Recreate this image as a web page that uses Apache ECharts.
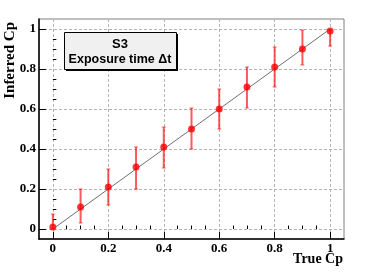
<!DOCTYPE html>
<html><head><meta charset="utf-8">
<script src="https://cdn.jsdelivr.net/npm/echarts@6/dist/echarts.min.js"></script>
<style>html,body{margin:0;padding:0;background:#fff}#c{width:382px;height:274px}</style>
</head><body><div id="c"></div>
<script>
var trueCp   = [0, 0.1, 0.2, 0.3, 0.4, 0.5, 0.6, 0.7, 0.8, 0.9, 1.0];
var inferred = [0.01, 0.11, 0.21, 0.31, 0.41, 0.50, 0.60, 0.71, 0.81, 0.90, 0.99];
var errLow   = [0.00, 0.03, 0.12, 0.20, 0.305, 0.40, 0.50, 0.605, 0.71, 0.82, 0.915];
var errHigh  = [0.075, 0.20, 0.30, 0.41, 0.51, 0.605, 0.70, 0.81, 0.91, 0.995, 0.995];
var refLine  = [[0, 0], [1, 1]];
var majorTicks = [0, 0.2, 0.4, 0.6, 0.8, 1.0];
var minorTicks = [0.05, 0.1, 0.15, 0.25, 0.3, 0.35, 0.45, 0.5, 0.55, 0.65, 0.7, 0.75, 0.85, 0.9, 0.95];
var boxTitle = 'S3';
var boxSubtitle = 'Exposure time \u0394t';
var xTitle = 'True Cp';
var yTitle = 'Inferred Cp';

var points = trueCp.map(function (x, i) { return [x, inferred[i]]; });
var bars = trueCp.map(function (x, i) { return [x, errLow[i], errHigh[i]]; });

var labelFont = { fontFamily: 'Liberation Serif', fontWeight: 'bold', fontSize: 13, color: '#000' };
var gridLine = { show: true, lineStyle: { color: '#b4b4b4', type: [3, 2], width: 1 } };

function mainAxis(isX) {
  return {
    type: 'value', min: -0.05, max: 1.05, gridIndex: 0,
    position: isX ? 'bottom' : 'left',
    axisLine: { show: true, onZero: false, lineStyle: { color: '#000', width: 1.5 } },
    axisTick: { show: true, inside: true, length: 7, customValues: majorTicks, lineStyle: { color: '#000', width: 1 } },
    axisLabel: Object.assign({ show: true, margin: isX ? 3 : 3, customValues: majorTicks,
      formatter: function (v) { return String(Math.round(v * 10) / 10); } }, labelFont),
    splitLine: gridLine
  };
}
function minorAxis(isX) {
  return {
    type: 'value', min: -0.05, max: 1.05, gridIndex: 0,
    position: isX ? 'bottom' : 'left',
    axisLine: { show: false },
    axisTick: { show: true, inside: true, length: 3.5, customValues: minorTicks, lineStyle: { color: '#000', width: 1 } },
    axisLabel: { show: false },
    splitLine: { show: false }
  };
}

var option = {
  animation: false,
  backgroundColor: '#fff',
  grid: { left: 39, right: 38, top: 19, bottom: 35, show: true, borderColor: '#808080', borderWidth: 1, backgroundColor: 'transparent' },
  xAxis: [mainAxis(true), minorAxis(true)],
  yAxis: [mainAxis(false), minorAxis(false)],
  series: [
    { type: 'line', data: refLine, showSymbol: false, symbol: 'none', lineStyle: { color: '#707070', width: 1 }, z: 2 },
    { type: 'custom', data: bars, z: 3,
      renderItem: function (params, api) {
        var x = api.value(0);
        var lo = api.coord([x, api.value(1)]);
        var hi = api.coord([x, api.value(2)]);
        var st = { stroke: 'rgba(255,0,0,0.65)', lineWidth: 2 };
        return { type: 'group', children: [
          { type: 'line', shape: { x1: lo[0], y1: lo[1], x2: hi[0], y2: hi[1] }, style: st },
          { type: 'line', shape: { x1: lo[0] - 2, y1: lo[1], x2: lo[0] + 2, y2: lo[1] }, style: { stroke: 'rgba(255,0,0,0.6)', lineWidth: 1 } },
          { type: 'line', shape: { x1: hi[0] - 2, y1: hi[1], x2: hi[0] + 2, y2: hi[1] }, style: { stroke: 'rgba(255,0,0,0.6)', lineWidth: 1 } }
        ] };
      }
    },
    { type: 'scatter', data: points, symbol: 'circle', symbolSize: 7, itemStyle: { color: '#ff0000' }, z: 4 }
  ],
  graphic: [
    { type: 'rect', left: 66, top: 34, shape: { width: 112, height: 37 }, style: { fill: '#000' }, z: 10 },
    { type: 'rect', left: 64, top: 32, shape: { width: 112, height: 37 }, style: { fill: '#f0f0f0', stroke: '#000', lineWidth: 1 }, z: 11 },
    { type: 'text', x: 120, y: 44, style: { text: boxTitle, fontFamily: 'Liberation Sans', fontWeight: 'bold', fontSize: 13, fill: '#000', align: 'center', verticalAlign: 'middle' }, z: 12 },
    { type: 'text', x: 120, y: 60, style: { text: boxSubtitle, fontFamily: 'Liberation Sans', fontWeight: 'bold', fontSize: 12.5, fill: '#000', align: 'center', verticalAlign: 'middle' }, z: 12 },
    { type: 'text', x: 343, y: 259, style: { text: xTitle, fontFamily: 'Liberation Serif', fontWeight: 'bold', fontSize: 14, fill: '#000', align: 'right', verticalAlign: 'middle' }, z: 12 },
    { type: 'text', x: 10, y: 22, rotation: Math.PI / 2, style: { text: yTitle, fontFamily: 'Liberation Serif', fontWeight: 'bold', fontSize: 15, fill: '#000', align: 'right', verticalAlign: 'middle' }, z: 12 }
  ]
};
echarts.init(document.getElementById('c'), null, { renderer: 'canvas' }).setOption(option);
</script></body></html>
